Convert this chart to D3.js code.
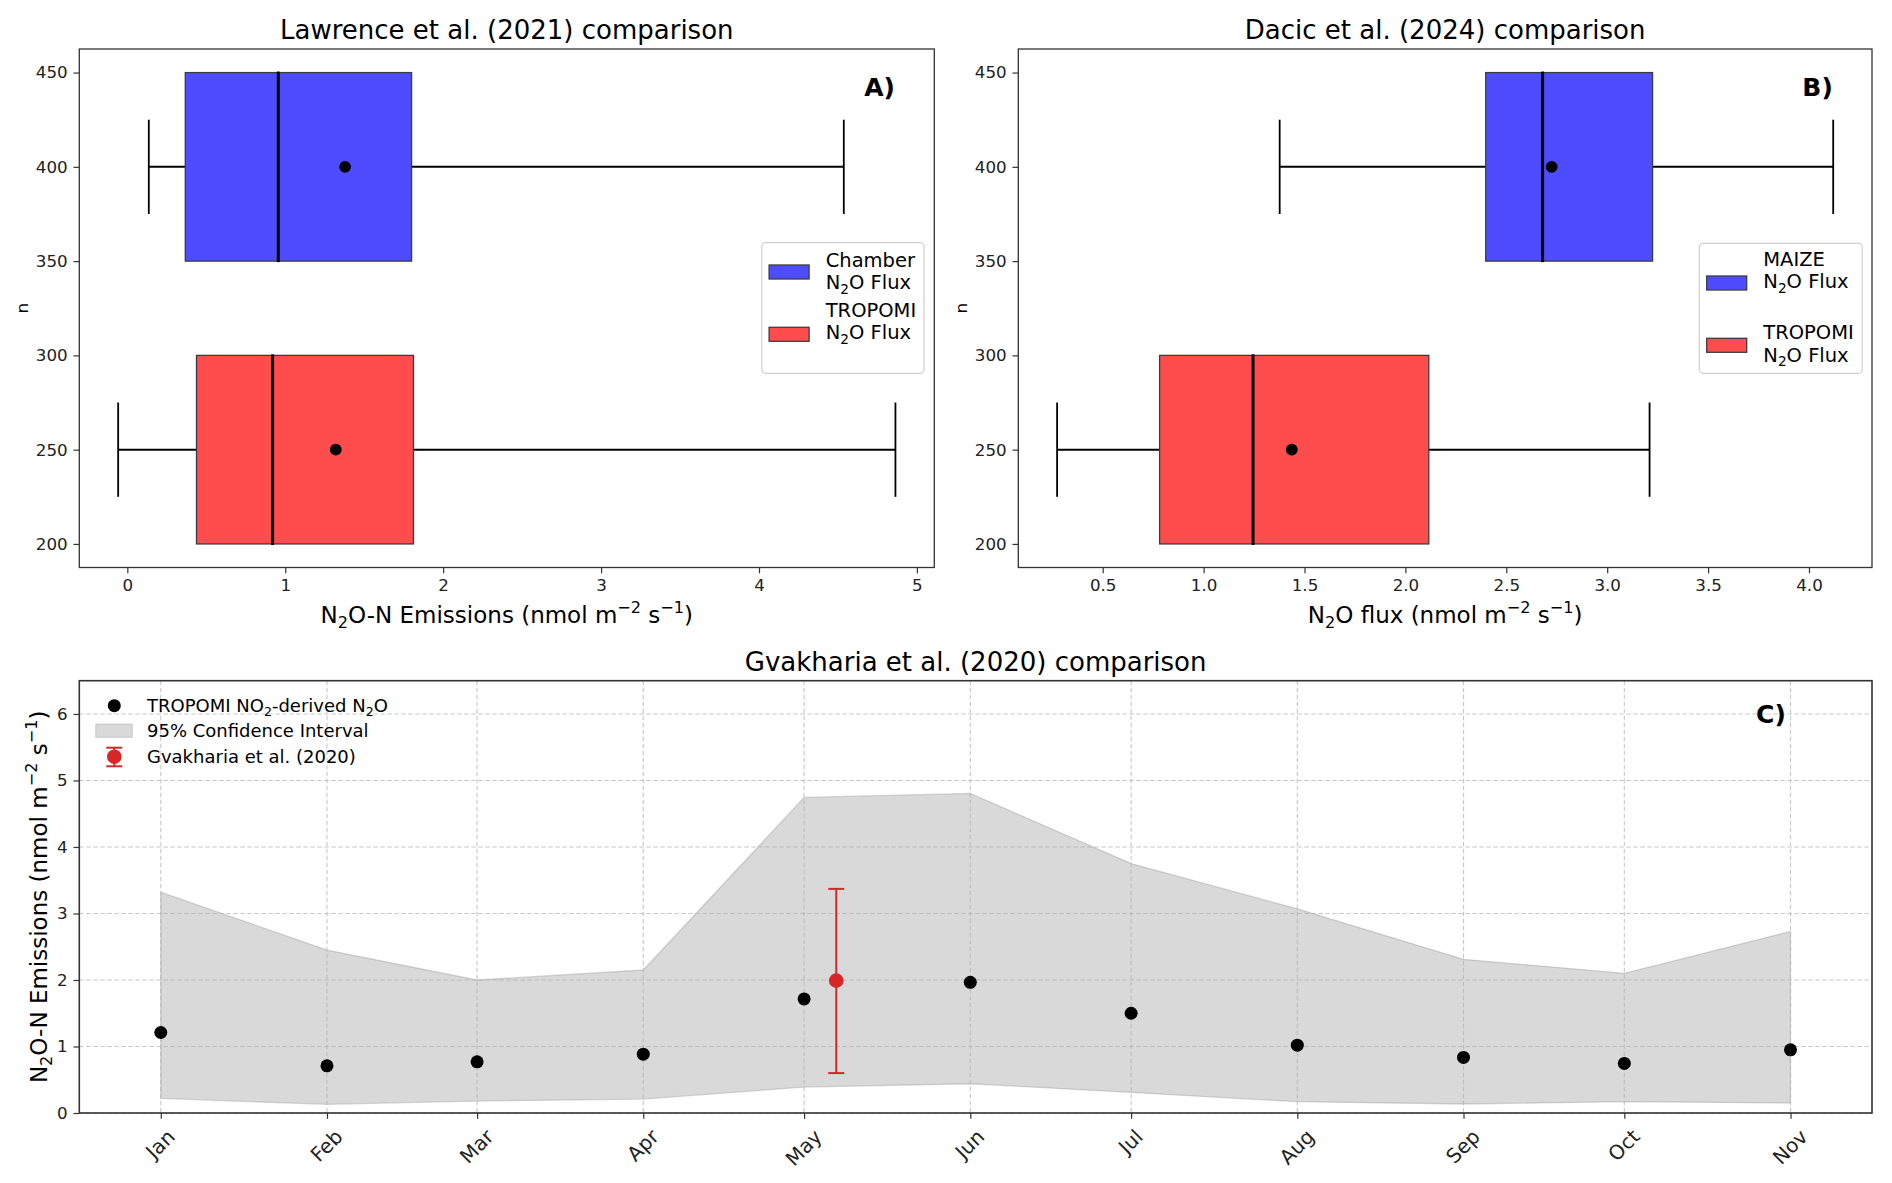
<!DOCTYPE html>
<html>
<head>
<meta charset="utf-8">
<script src="https://cdn.jsdelivr.net/npm/d3@7"></script>
<style>
  body { margin: 0; background: #fff; }
  svg { font-family: "DejaVu Sans", sans-serif; white-space: pre; }
</style>
</head>
<body>
<svg id="chart" width="1892" height="1183"></svg>
<script>
//data: panel A (Lawrence et al. 2021)
const lawrenceGroups = ["Chamber", "TROPOMI"];
const lawrencePos = [400, 250];
const lawrenceQ1 = [0.367, 0.438];
const lawrenceMedian = [0.956, 0.92];
const lawrenceQ3 = [1.80, 1.812];
const lawrenceLow = [0.136, -0.058];
const lawrenceHigh = [4.537, 4.864];
const lawrenceMean = [1.379, 1.32];
const lawrenceTicks = [0, 1, 2, 3, 4, 5];

//data: panel B (Dacic et al. 2024)
const dacicGroups = ["MAIZE", "TROPOMI"];
const dacicPos = [400, 250];
const dacicQ1 = [2.398, 0.782];
const dacicMedian = [2.68, 1.245];
const dacicQ3 = [3.225, 2.116];
const dacicLow = [1.377, 0.274];
const dacicHigh = [4.12, 3.21];
const dacicMean = [2.725, 1.437];
const dacicTicks = [0.5, 1.0, 1.5, 2.0, 2.5, 3.0, 3.5, 4.0];

const nTicks = [200, 250, 300, 350, 400, 450];

//data: panel C (Gvakharia et al. 2020)
const monthDates = ["2019-01-01", "2019-02-01", "2019-03-01", "2019-04-01", "2019-05-01", "2019-06-01",
  "2019-07-01", "2019-08-01", "2019-09-01", "2019-10-01", "2019-11-01"];
const tropomiN2O = [1.21, 0.71, 0.77, 0.885, 1.715, 1.965, 1.50, 1.02, 0.835, 0.745, 0.95];
const ciLower = [0.22, 0.13, 0.18, 0.21, 0.39, 0.44, 0.31, 0.17, 0.135, 0.17, 0.15];
const ciUpper = [3.32, 2.45, 2.00, 2.15, 4.745, 4.805, 3.75, 3.07, 2.31, 2.10, 2.73];
const gvakhariaDate = "2019-05-07";
const gvakhariaMean = 1.99;
const gvakhariaLow = 0.60;
const gvakhariaHigh = 3.37;
const emissionTicks = [0, 1, 2, 3, 4, 5, 6];

//text pieces: [text, "" | "sub" | "sup"]
const n2oFlux = [["N", ""], ["2", "sub"], ["O Flux", ""]];
const labelA = [["N", ""], ["2", "sub"], ["O-N Emissions (nmol m", ""], ["\u22122", "sup"], [" s", ""], ["\u22121", "sup"], [")", ""]];
const labelB = [["N", ""], ["2", "sub"], ["O flux (nmol m", ""], ["\u22122", "sup"], [" s", ""], ["\u22121", "sup"], [")", ""]];

const svg = d3.select("#chart");
const tickFont = 16.7;
const monthFont = 20;
const spineColor = "#333";

function rich(textSel, parts, fs) {
  let shift = 0;
  parts.forEach(([s, k]) => {
    const target = k === "sub" ? 0.22 * fs : k === "sup" ? -0.42 * fs : 0;
    textSel.append("tspan")
      .attr("dy", target - shift)
      .attr("font-size", k ? fs * 0.7 : fs)
      .text(s);
    shift = target;
  });
  return textSel;
}

function styleAxis(g) {
  g.select(".domain").remove();
  g.selectAll(".tick line").attr("stroke", spineColor).attr("stroke-width", 1.2);
  g.selectAll(".tick text").attr("fill", "#222").attr("font-size", tickFont)
    .attr("font-family", "DejaVu Sans");
}

function panelTag(f, s) {
  svg.append("text")
    .attr("x", f.x0 + 0.95 * (f.x1 - f.x0) + 3.5)
    .attr("y", f.y0 + 0.05 * (f.y1 - f.y0) + 21)
    .attr("text-anchor", "end").attr("font-weight", "bold").attr("font-size", 25)
    .text(s);
}

function boxPanel(cfg) {
  const f = cfg.frame;
  const boxHalf = 50, capHalf = 25;
  const rows = cfg.groups.map((name, i) => ({
    name, pos: cfg.pos[i], q1: cfg.q1[i], median: cfg.median[i], q3: cfg.q3[i],
    low: cfg.low[i], high: cfg.high[i], mean: cfg.mean[i], color: cfg.colors[i]
  }));

  //scale
  const lo = d3.min(cfg.low), hi = d3.max(cfg.high), padX = (hi - lo) * 0.05;
  const x = d3.scaleLinear().domain([lo - padX, hi + padX]).range([f.x0, f.x1]);
  const yLo = d3.min(cfg.pos) - boxHalf, yHi = d3.max(cfg.pos) + boxHalf, padY = (yHi - yLo) * 0.05;
  const y = d3.scaleLinear().domain([yLo - padY, yHi + padY]).range([f.y1, f.y0]);

  const g = svg.append("g");

  //whiskers
  g.selectAll("line.wlo").data(rows).join("line").attr("class", "wlo")
    .attr("x1", d => x(d.low)).attr("x2", d => x(d.q1))
    .attr("y1", d => y(d.pos)).attr("y2", d => y(d.pos))
    .attr("stroke", "#000").attr("stroke-width", 2);
  g.selectAll("line.whi").data(rows).join("line").attr("class", "whi")
    .attr("x1", d => x(d.q3)).attr("x2", d => x(d.high))
    .attr("y1", d => y(d.pos)).attr("y2", d => y(d.pos))
    .attr("stroke", "#000").attr("stroke-width", 2);
  ["low", "high"].forEach(k => {
    g.selectAll("line.cap-" + k).data(rows).join("line").attr("class", "cap-" + k)
      .attr("x1", d => x(d[k])).attr("x2", d => x(d[k]))
      .attr("y1", d => y(d.pos + capHalf)).attr("y2", d => y(d.pos - capHalf))
      .attr("stroke", "#000").attr("stroke-width", 1.8);
  });

  //boxes
  g.selectAll("rect.box").data(rows).join("rect").attr("class", "box")
    .attr("x", d => x(d.q1)).attr("width", d => x(d.q3) - x(d.q1))
    .attr("y", d => y(d.pos + boxHalf)).attr("height", d => y(d.pos - boxHalf) - y(d.pos + boxHalf))
    .attr("fill", d => d.color).attr("stroke", "#3c3c3c").attr("stroke-width", 1.3);
  g.selectAll("line.median").data(rows).join("line").attr("class", "median")
    .attr("x1", d => x(d.median)).attr("x2", d => x(d.median))
    .attr("y1", d => y(d.pos + boxHalf) - 1).attr("y2", d => y(d.pos - boxHalf) + 1)
    .attr("stroke", "#000").attr("stroke-width", 3);
  g.selectAll("circle.mean").data(rows).join("circle").attr("class", "mean")
    .attr("cx", d => x(d.mean)).attr("cy", d => y(d.pos)).attr("r", 5.9).attr("fill", "#000");

  //axes
  svg.append("g").attr("transform", `translate(0,${f.y1})`)
    .call(d3.axisBottom(x).tickValues(cfg.xTicks).tickFormat(cfg.xFormat).tickSize(5.8).tickPadding(5.8))
    .call(styleAxis);
  svg.append("g").attr("transform", `translate(${f.x0},0)`)
    .call(d3.axisLeft(y).tickValues(nTicks).tickFormat(d3.format("d")).tickSize(5.8).tickPadding(5.8))
    .call(styleAxis);

  svg.append("rect").attr("x", f.x0).attr("y", f.y0)
    .attr("width", f.x1 - f.x0).attr("height", f.y1 - f.y0)
    .attr("fill", "none").attr("stroke", spineColor).attr("stroke-width", 1.3);

  //texts
  const cx = (f.x0 + f.x1) / 2;
  svg.append("text").attr("x", cx).attr("y", f.y0 - 9.7)
    .attr("text-anchor", "middle").attr("font-size", 26).text(cfg.title);
  rich(svg.append("text").attr("x", cx).attr("y", f.y1 + 55).attr("text-anchor", "middle"), cfg.xLabel, 23);
  svg.append("text").attr("transform", `translate(${f.x0 - 51.5},${(f.y0 + f.y1) / 2}) rotate(-90)`)
    .attr("text-anchor", "middle").attr("font-size", tickFont).text("n");
  panelTag(f, cfg.tag);

  //legend
  const L = cfg.legend;
  const lg = svg.append("g").attr("transform", `translate(${L.x},${L.y})`);
  lg.append("rect").attr("width", L.w).attr("height", L.h).attr("rx", 4)
    .attr("fill", "#fff").attr("fill-opacity", 0.8).attr("stroke", "#d0d0d0").attr("stroke-width", 1.2);
  rows.forEach((d, i) => {
    lg.append("rect").attr("x", 7.4).attr("y", L.patchTop[i]).attr("width", 40).attr("height", 14)
      .attr("fill", d.color).attr("stroke", "#3c3c3c").attr("stroke-width", 1.3);
    lg.append("text").attr("x", 64).attr("y", L.baseTop[i]).attr("font-size", 19.5).text(d.name);
    rich(lg.append("text").attr("x", 64).attr("y", L.baseTop[i] + 22.6), n2oFlux, 19.5);
  });
}

const frameA = { x0: 79.3, y0: 49, x1: 934.3, y1: 567.5 };
const frameB = { x0: 1018.3, y0: 49, x1: 1872, y1: 567.5 };
const frameC = { x0: 79.3, y0: 680.7, x1: 1872, y1: 1113 };
const boxColors = ["#4d4dff", "#ff4d4d"];

boxPanel({
  frame: frameA, groups: lawrenceGroups, pos: lawrencePos, q1: lawrenceQ1, median: lawrenceMedian,
  q3: lawrenceQ3, low: lawrenceLow, high: lawrenceHigh, mean: lawrenceMean, colors: boxColors,
  xTicks: lawrenceTicks, xFormat: d3.format("d"), title: "Lawrence et al. (2021) comparison",
  xLabel: labelA, tag: "A)",
  legend: { x: 761.7, y: 242.7, w: 162.3, h: 130.6, patchTop: [22.3, 84.6], baseTop: [24, 74] }
});

boxPanel({
  frame: frameB, groups: dacicGroups, pos: dacicPos, q1: dacicQ1, median: dacicMedian,
  q3: dacicQ3, low: dacicLow, high: dacicHigh, mean: dacicMean, colors: boxColors,
  xTicks: dacicTicks, xFormat: d3.format(".1f"), title: "Dacic et al. (2024) comparison",
  xLabel: labelB, tag: "B)",
  legend: { x: 1699.3, y: 243.3, w: 163, h: 130, patchTop: [32.7, 95], baseTop: [22.4, 95.7] }
});

//panel C
(function () {
  const f = frameC;
  const dates = monthDates.map(d => new Date(d + "T00:00:00Z"));
  const monthly = dates.map((d, i) => ({ date: d, value: tropomiN2O[i], lo: ciLower[i], hi: ciUpper[i] }));
  const gDate = new Date(gvakhariaDate + "T00:00:00Z");

  const t0 = d3.min(dates), t1 = d3.max(dates), pad = (t1 - t0) * 0.05;
  const x = d3.scaleUtc().domain([new Date(+t0 - pad), new Date(+t1 + pad)]).range([f.x0, f.x1]);
  const y = d3.scaleLinear().domain([0, 6.5]).range([f.y1, f.y0]);

  const g = svg.append("g");

  //confidence band
  g.append("path").datum(monthly)
    .attr("d", d3.area().x(d => x(d.date)).y0(d => y(d.lo)).y1(d => y(d.hi)))
    .attr("fill", "gray").attr("fill-opacity", 0.3)
    .attr("stroke", "gray").attr("stroke-opacity", 0.3).attr("stroke-width", 1.3);

  //grid
  g.selectAll("line.vgrid").data(dates).join("line").attr("class", "vgrid")
    .attr("x1", d => x(d)).attr("x2", d => x(d)).attr("y1", f.y0).attr("y2", f.y1)
    .attr("stroke", "#b0b0b0").attr("stroke-opacity", 0.7).attr("stroke-width", 1.1)
    .attr("stroke-dasharray", "4.5,2.5");
  g.selectAll("line.hgrid").data(emissionTicks).join("line").attr("class", "hgrid")
    .attr("x1", f.x0).attr("x2", f.x1).attr("y1", d => y(d)).attr("y2", d => y(d))
    .attr("stroke", "#b0b0b0").attr("stroke-opacity", 0.7).attr("stroke-width", 1.1)
    .attr("stroke-dasharray", "4.5,2.5");

  //points
  g.selectAll("circle.pt").data(monthly).join("circle").attr("class", "pt")
    .attr("cx", d => x(d.date)).attr("cy", d => y(d.value)).attr("r", 6.5).attr("fill", "#000");

  //error bar
  const red = "#d62728";
  const ex = x(gDate);
  g.append("line").attr("x1", ex).attr("x2", ex).attr("y1", y(gvakhariaLow)).attr("y2", y(gvakhariaHigh))
    .attr("stroke", red).attr("stroke-width", 2);
  [gvakhariaLow, gvakhariaHigh].forEach(v => {
    g.append("line").attr("x1", ex - 8).attr("x2", ex + 8).attr("y1", y(v)).attr("y2", y(v))
      .attr("stroke", red).attr("stroke-width", 2);
  });
  g.append("circle").attr("cx", ex).attr("cy", y(gvakhariaMean)).attr("r", 7.3).attr("fill", red);

  //axes
  const gx = svg.append("g").attr("transform", `translate(0,${f.y1})`)
    .call(d3.axisBottom(x).tickValues(dates).tickFormat(d3.utcFormat("%b")).tickSize(5.8).tickPadding(5.8))
    .call(styleAxis);
  gx.selectAll(".tick text").attr("font-size", monthFont).each(function () {
    const w = this.getComputedTextLength();
    const d = (w + 1.0 * monthFont) / (2 * Math.SQRT2);
    d3.select(this).attr("y", null).attr("dy", null)
      .attr("text-anchor", "middle").attr("dominant-baseline", "central")
      .attr("transform", `translate(-1,${13 + d}) rotate(-45)`);
  });
  svg.append("g").attr("transform", `translate(${f.x0},0)`)
    .call(d3.axisLeft(y).tickValues(emissionTicks).tickFormat(d3.format("d")).tickSize(5.8).tickPadding(5.8))
    .call(styleAxis);

  svg.append("rect").attr("x", f.x0).attr("y", f.y0)
    .attr("width", f.x1 - f.x0).attr("height", f.y1 - f.y0)
    .attr("fill", "none").attr("stroke", spineColor).attr("stroke-width", 1.6);

  //texts
  svg.append("text").attr("x", (f.x0 + f.x1) / 2).attr("y", f.y0 - 10.1)
    .attr("text-anchor", "middle").attr("font-size", 26).text("Gvakharia et al. (2020) comparison");
  rich(svg.append("text").attr("transform", `translate(${f.x0 - 32.6},${(f.y0 + f.y1) / 2}) rotate(-90)`)
    .attr("text-anchor", "middle"), labelA, 23);
  panelTag(f, "C)");

  //legend
  const lg = svg.append("g").attr("transform", `translate(${f.x0},${f.y0})`);
  lg.append("circle").attr("cx", 35).attr("cy", 25).attr("r", 6.5).attr("fill", "#000");
  lg.append("rect").attr("x", 16.4).attr("y", 43.3).attr("width", 36.6).attr("height", 13.3)
    .attr("fill", "gray").attr("fill-opacity", 0.3).attr("stroke", "gray").attr("stroke-opacity", 0.3);
  lg.append("line").attr("x1", 35).attr("x2", 35).attr("y1", 67).attr("y2", 85.6).attr("stroke", red).attr("stroke-width", 2);
  [67, 85.6].forEach(v => lg.append("line").attr("x1", 27).attr("x2", 43).attr("y1", v).attr("y2", v)
    .attr("stroke", red).attr("stroke-width", 2));
  lg.append("circle").attr("cx", 35).attr("cy", 76).attr("r", 7.3).attr("fill", red);

  const legendC = [
    [["TROPOMI NO", ""], ["2", "sub"], ["-derived N", ""], ["2", "sub"], ["O", ""]],
    [["95% Confidence Interval", ""]],
    [["Gvakharia et al. (2020)", ""]]
  ];
  [25, 50, 76].forEach((cy, i) => {
    rich(lg.append("text").attr("x", 67.7).attr("y", cy + 6.3), legendC[i], 18);
  });
})();
</script>
</body>
</html>
